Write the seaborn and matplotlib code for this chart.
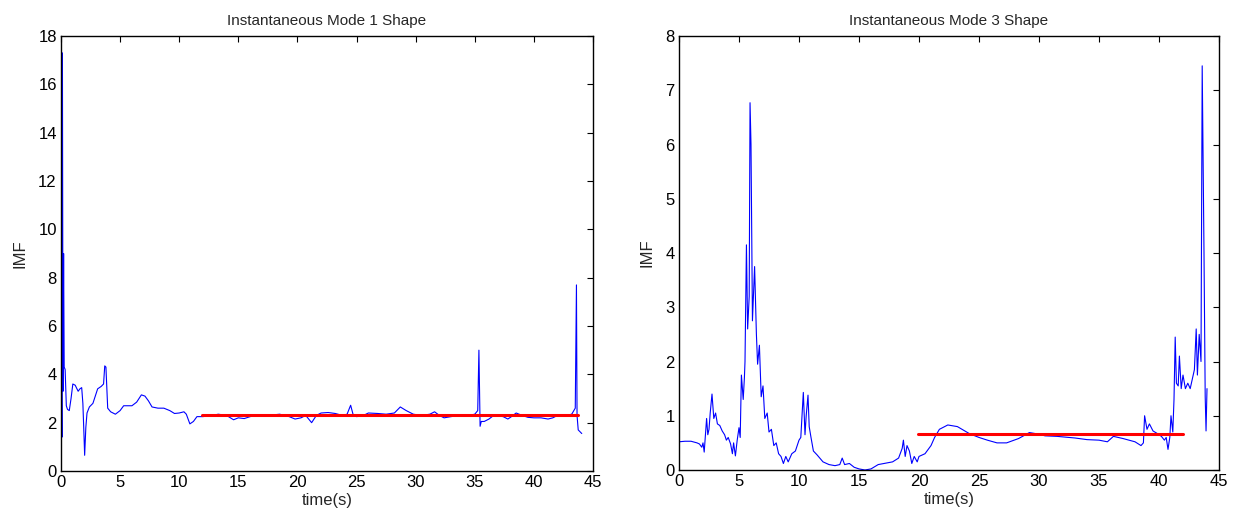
import numpy as np
import seaborn as sns
import matplotlib.pyplot as plt

# Mode 1 instantaneous shape
t_mode1 = [0, 0.05, 0.08, 0.12, 0.17, 0.22, 0.27, 0.35, 0.45, 0.55, 0.7, 0.85, 1.0, 1.2, 1.45, 1.6,
           1.75, 1.85, 1.95, 2.0, 2.1, 2.2, 2.4, 2.7, 2.9, 3.1, 3.4, 3.6, 3.7, 3.8, 3.95, 4.2, 4.6,
           5.0, 5.3, 6.0, 6.4, 6.8, 7.1, 7.4, 7.7, 8.2, 8.7, 9.2, 9.6, 10.0, 10.4, 10.6, 10.9, 11.2,
           11.5, 12.0, 12.8, 13.3, 14.0, 14.6, 15.0, 15.5, 16.0, 16.5, 17.5, 18.5, 19.3, 19.8, 20.3,
           20.7, 21.2, 21.6, 22.0, 22.6, 23.2, 23.8, 24.2, 24.4, 24.5, 24.7, 25.0, 25.5, 26.0, 26.8,
           27.5, 28.2, 28.7, 29.2, 29.8, 30.5, 31.2, 31.6, 32.0, 32.4, 33.0, 33.6, 34.3, 35.0, 35.25,
           35.35, 35.45, 35.55, 35.8, 36.2, 36.6, 37.0, 37.4, 37.8, 38.1, 38.5, 39.0, 39.5, 40.0,
           40.6, 41.2, 41.6, 42.0, 42.6, 43.2, 43.5, 43.6, 43.65, 43.75, 43.85, 44.05]
imf_mode1 = [1.4, 3.9, 1.4, 17.3, 3.3, 9.0, 4.3, 4.2, 2.7, 2.55, 2.5, 3.0, 3.6, 3.55, 3.3, 3.4,
             3.45, 2.8, 1.4, 0.65, 1.8, 2.4, 2.65, 2.8, 3.1, 3.4, 3.5, 3.6, 4.35, 4.3, 2.6, 2.45, 2.35,
             2.5, 2.7, 2.7, 2.85, 3.15, 3.1, 2.9, 2.65, 2.6, 2.6, 2.5, 2.38, 2.4, 2.45, 2.35, 1.95, 2.05,
             2.25, 2.25, 2.3, 2.35, 2.3, 2.12, 2.2, 2.17, 2.25, 2.3, 2.3, 2.35, 2.25, 2.15, 2.2,
             2.3, 2.0, 2.3, 2.4, 2.42, 2.38, 2.3, 2.35, 2.6, 2.72, 2.35, 2.25, 2.28, 2.4, 2.38,
             2.35, 2.4, 2.65, 2.5, 2.35, 2.3, 2.35, 2.45, 2.3, 2.2, 2.25, 2.3, 2.28, 2.35, 2.5,
             5.0, 1.85, 2.05, 2.05, 2.15, 2.3, 2.28, 2.25, 2.15, 2.25, 2.4, 2.3, 2.22, 2.2,
             2.2, 2.15, 2.2, 2.3, 2.28, 2.35, 2.6, 7.7, 2.3, 1.7, 1.65, 1.55]

# Mode 3 instantaneous shape
t_mode3 = [0, 0.5, 1.0, 1.5, 1.7, 1.9, 2.0, 2.1, 2.3, 2.4, 2.5, 2.6, 2.75, 2.9, 3.05, 3.2, 3.4,
           3.6, 3.8, 3.95, 4.1, 4.3, 4.45, 4.55, 4.7, 4.85, 5.0, 5.1, 5.2, 5.35, 5.45, 5.5, 5.62,
           5.72, 5.85, 5.92, 6.0, 6.12, 6.3, 6.45, 6.55, 6.7, 6.85, 7.0, 7.15, 7.35, 7.5, 7.7, 7.9,
           8.1, 8.3, 8.5, 8.7, 8.9, 9.1, 9.4, 9.7, 10.0, 10.15, 10.36, 10.5, 10.6, 10.75, 10.85,
           11.0, 11.2, 11.5, 12.0, 12.5, 13.0, 13.4, 13.6, 13.8, 14.2, 14.6, 15.0, 15.5, 16.0,
           16.6, 17.3, 17.8, 18.3, 18.6, 18.7, 18.85, 19.0, 19.2, 19.4, 19.6, 19.85, 20.0, 20.5,
           21.0, 21.3, 21.7, 22.4, 23.2, 24.2, 25.0, 25.7, 26.5, 27.3, 28.3, 29.2, 30.0, 30.5,
           31.5, 33.0, 34.0, 35.0, 35.7, 36.2, 37.0, 38.0, 38.5, 38.7, 38.8, 39.0, 39.2, 39.5,
           39.8, 40.2, 40.45, 40.6, 40.75, 40.9, 41.0, 41.15, 41.25, 41.35, 41.45, 41.6, 41.7,
           41.85, 42.0, 42.2, 42.4, 42.6, 42.8, 42.95, 43.1, 43.2, 43.35, 43.5, 43.6, 43.75,
           43.85, 43.92, 44.0]
imf_mode3 = [0.52, 0.53, 0.53, 0.5, 0.48, 0.42, 0.5, 0.33, 0.95, 0.65, 0.75, 1.05, 1.4, 0.95, 1.05,
             0.85, 0.82, 0.72, 0.65, 0.55, 0.6, 0.48, 0.3, 0.5, 0.26, 0.55, 0.78, 0.6, 1.75, 1.3,
             1.7, 2.0, 4.15, 2.6, 3.2, 6.77, 6.0, 2.75, 3.75, 2.5, 1.95, 2.3, 1.35, 1.55, 0.95,
             1.05, 0.7, 0.75, 0.45, 0.5, 0.3, 0.25, 0.12, 0.25, 0.15, 0.3, 0.35, 0.55, 0.6, 1.43,
             0.65, 1.0, 1.38, 0.8, 0.6, 0.35, 0.28, 0.15, 0.1, 0.08, 0.1, 0.22, 0.1, 0.12, 0.05,
             0.02, 0.0, 0.02, 0.1, 0.13, 0.15, 0.22, 0.4, 0.55, 0.25, 0.45, 0.35, 0.12, 0.25, 0.15,
             0.25, 0.3, 0.45, 0.6, 0.75, 0.83, 0.8, 0.67, 0.6, 0.55, 0.5, 0.5, 0.58, 0.69, 0.66,
             0.63, 0.62, 0.59, 0.56, 0.55, 0.52, 0.62, 0.58, 0.52, 0.45, 0.5, 1.0, 0.75, 0.85,
             0.72, 0.68, 0.62, 0.55, 0.6, 0.38, 0.6, 1.0, 0.7, 1.3, 2.45, 1.6, 1.55, 2.1, 1.5,
             1.75, 1.5, 1.6, 1.5, 1.7, 1.85, 2.6, 1.75, 2.5, 2.0, 7.45, 4.0, 1.35, 0.72, 1.5]

# mean levels (red lines)
mean1_t = [11.9, 43.7]
mean1_val = [2.3, 2.3]
mean3_t = [19.9, 42.0]
mean3_val = [0.66, 0.66]

sns.set_theme(style="white")
plt.rcParams['font.family'] = ['Liberation Sans', 'DejaVu Sans']
plt.rcParams.update({
    'xtick.direction': 'in', 'ytick.direction': 'in',
    'xtick.top': True, 'ytick.right': True,
    'xtick.major.size': 4, 'ytick.major.size': 4,
    'xtick.major.width': 0.8, 'ytick.major.width': 0.8,
    'axes.edgecolor': 'black', 'axes.linewidth': 1.0,
    'xtick.color': 'black', 'ytick.color': 'black',
})

fig = plt.figure(figsize=(12.34, 5.19), dpi=100)
ax1 = fig.add_axes([61/1234, 48/519, 532/1234, 435/519])
ax2 = fig.add_axes([679/1234, 49/519, 540/1234, 434/519])

sns.lineplot(x=t_mode1, y=imf_mode1, color='#0000ff', linewidth=0.8, estimator=None, sort=False, ax=ax1)
sns.lineplot(x=mean1_t, y=mean1_val, color='#ff0000', linewidth=2.2, estimator=None, ax=ax1)
sns.lineplot(x=t_mode3, y=imf_mode3, color='#0000ff', linewidth=0.8, estimator=None, sort=False, ax=ax2)
sns.lineplot(x=mean3_t, y=mean3_val, color='#ff0000', linewidth=2.2, estimator=None, ax=ax2)

for ax, title, ymax in [(ax1, 'Instantaneous Mode 1 Shape', 18), (ax2, 'Instantaneous Mode 3 Shape', 8)]:
    ax.set_xlim(0, 45)
    ax.set_ylim(0, ymax)
    ax.set_xticks(np.arange(0, 46, 5))
    ax.set_yticks(np.arange(0, ymax + 1, 2 if ymax == 18 else 1))
    ax.tick_params(labelsize=12, pad=3)
    ax.set_title(title, fontsize=11, pad=8)
    ax.set_xlabel('time(s)', fontsize=12, labelpad=2)
    ax.set_ylabel('IMF', fontsize=12, labelpad=8)
    for s in ax.spines.values():
        s.set_visible(True)
        s.set_color('black')

fig.savefig('out.png', dpi=100, facecolor='white')
